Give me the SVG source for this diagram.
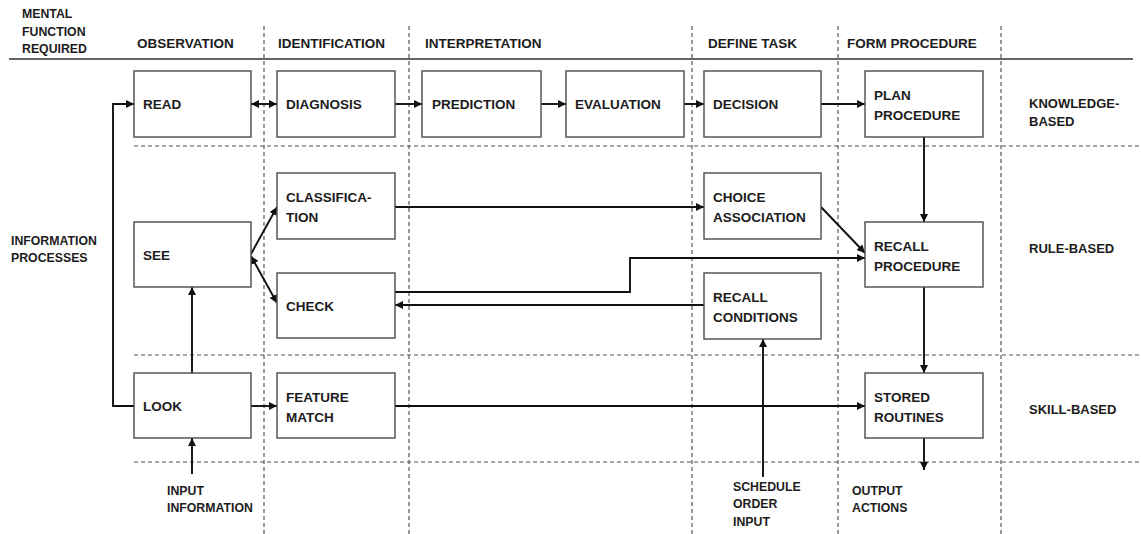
<svg xmlns="http://www.w3.org/2000/svg" width="1141" height="534" viewBox="0 0 1141 534">
  <defs>
    <marker id="arrow" markerUnits="userSpaceOnUse" markerWidth="9" markerHeight="8" refX="8" refY="4" orient="auto-start-reverse">
      <path d="M0,0 L8,4 L0,8 z" fill="#111"/>
    </marker>
    <style>
      text { font-family: "Liberation Sans", Arial, sans-serif; font-weight: bold; fill: #1c1c1c; }
      .hdr { font-size: 13.5px; }
      .side { font-size: 12.3px; }
      .lbl { font-size: 13.5px; }
      .lane { font-size: 13px; }
      .box { fill: #fff; stroke: #4a4a4a; stroke-width: 1.4; }
      .grid { stroke: #555; stroke-width: 1.2; stroke-dasharray: 4 3; fill: none; }
      .conn { stroke: #111; stroke-width: 1.9; fill: none; marker-end: url(#arrow); }
      .both { marker-start: url(#arrow); }
      .plain { marker-end: none; }
    </style>
  </defs>

  <rect width="1141" height="534" fill="#fff"/>

  <!-- column and lane grid -->
  <g id="grid">
    <line x1="9" y1="59" x2="1133" y2="59" stroke="#333" stroke-width="1.3"/>
    <line class="grid" x1="264" y1="26" x2="264" y2="534"/>
    <line class="grid" x1="409" y1="26" x2="409" y2="534"/>
    <line class="grid" x1="692" y1="26" x2="692" y2="534"/>
    <line class="grid" x1="838" y1="26" x2="838" y2="534"/>
    <line class="grid" x1="1001" y1="26" x2="1001" y2="534"/>
    <line class="grid" x1="134" y1="146" x2="1141" y2="146"/>
    <line class="grid" x1="134" y1="355" x2="1141" y2="355"/>
    <line class="grid" x1="134" y1="462" x2="1141" y2="462"/>
  </g>

  <!-- headings -->
  <g id="headings">
    <text class="side" x="22" y="18">MENTAL</text>
    <text class="side" x="22" y="36">FUNCTION</text>
    <text class="side" x="22" y="53">REQUIRED</text>
    <text class="hdr" x="137" y="48">OBSERVATION</text>
    <text class="hdr" x="278" y="48">IDENTIFICATION</text>
    <text class="hdr" x="425" y="48">INTERPRETATION</text>
    <text class="hdr" x="708" y="48">DEFINE TASK</text>
    <text class="hdr" x="847" y="48">FORM PROCEDURE</text>
    <text class="side" x="11" y="245">INFORMATION</text>
    <text class="side" x="11" y="262">PROCESSES</text>
    <text class="lane" x="1029" y="108">KNOWLEDGE-</text>
    <text class="lane" x="1029" y="126">BASED</text>
    <text class="lane" x="1029" y="253">RULE-BASED</text>
    <text class="lane" x="1029" y="414">SKILL-BASED</text>
    <text class="side" x="167" y="495">INPUT</text>
    <text class="side" x="167" y="512">INFORMATION</text>
    <text class="side" x="733" y="491">SCHEDULE</text>
    <text class="side" x="733" y="508">ORDER</text>
    <text class="side" x="733" y="526">INPUT</text>
    <text class="side" x="852" y="495">OUTPUT</text>
    <text class="side" x="852" y="512">ACTIONS</text>
  </g>

  <!-- connectors -->
  <g id="connectors">
    <path class="conn" d="M134,406 H113 V104 H134"/>
    <path class="conn both" d="M251,104 H277"/>
    <path class="conn" d="M395,104 H422"/>
    <path class="conn" d="M541,104 H566"/>
    <path class="conn" d="M684,104 H704"/>
    <path class="conn" d="M821,104 H865"/>
    <path class="conn" d="M924,137 V222"/>
    <path class="conn" d="M924,287 V373"/>
    <path class="conn" d="M924,438 V470"/>
    <path class="conn" d="M251,254 L277,207"/>
    <path class="conn both" d="M251,256 L277,303"/>
    <path class="conn" d="M395,207 H704"/>
    <path class="conn" d="M821,207 L865,253"/>
    <path class="conn" d="M395,292 H630 V258 H865"/>
    <path class="conn" d="M704,305 H395"/>
    <path class="conn" d="M192,373 V287"/>
    <path class="conn" d="M251,406 H277"/>
    <path class="conn" d="M395,406 H865"/>
    <path class="conn" d="M192,474 V438"/>
    <path class="conn" d="M763,477 V339"/>
  </g>

  <!-- knowledge-based row -->
  <g id="read"><rect class="box" x="134" y="71" width="117" height="66"/><text class="lbl" x="143" y="109">READ</text></g>
  <g id="diagnosis"><rect class="box" x="277" y="71" width="118" height="66"/><text class="lbl" x="286" y="109">DIAGNOSIS</text></g>
  <g id="prediction"><rect class="box" x="422" y="71" width="119" height="66"/><text class="lbl" x="432" y="109">PREDICTION</text></g>
  <g id="evaluation"><rect class="box" x="566" y="71" width="118" height="66"/><text class="lbl" x="575" y="109">EVALUATION</text></g>
  <g id="decision"><rect class="box" x="704" y="71" width="117" height="66"/><text class="lbl" x="713" y="109">DECISION</text></g>
  <g id="plan-procedure"><rect class="box" x="865" y="71" width="118" height="66"/><text class="lbl" x="874" y="100">PLAN</text><text class="lbl" x="874" y="120">PROCEDURE</text></g>

  <!-- rule-based row -->
  <g id="see"><rect class="box" x="134" y="222" width="117" height="65"/><text class="lbl" x="143" y="260">SEE</text></g>
  <g id="classification"><rect class="box" x="277" y="173" width="118" height="66"/><text class="lbl" x="286" y="202">CLASSIFICA-</text><text class="lbl" x="286" y="222">TION</text></g>
  <g id="check"><rect class="box" x="277" y="273" width="118" height="65"/><text class="lbl" x="286" y="311">CHECK</text></g>
  <g id="choice-association"><rect class="box" x="704" y="173" width="117" height="66"/><text class="lbl" x="713" y="202">CHOICE</text><text class="lbl" x="713" y="222">ASSOCIATION</text></g>
  <g id="recall-conditions"><rect class="box" x="704" y="273" width="117" height="66"/><text class="lbl" x="713" y="302">RECALL</text><text class="lbl" x="713" y="322">CONDITIONS</text></g>
  <g id="recall-procedure"><rect class="box" x="865" y="222" width="118" height="65"/><text class="lbl" x="874" y="251">RECALL</text><text class="lbl" x="874" y="271">PROCEDURE</text></g>

  <!-- skill-based row -->
  <g id="look"><rect class="box" x="134" y="373" width="117" height="65"/><text class="lbl" x="143" y="411">LOOK</text></g>
  <g id="feature-match"><rect class="box" x="277" y="373" width="118" height="65"/><text class="lbl" x="286" y="402">FEATURE</text><text class="lbl" x="286" y="422">MATCH</text></g>
  <g id="stored-routines"><rect class="box" x="865" y="373" width="118" height="65"/><text class="lbl" x="874" y="402">STORED</text><text class="lbl" x="874" y="422">ROUTINES</text></g>
</svg>
